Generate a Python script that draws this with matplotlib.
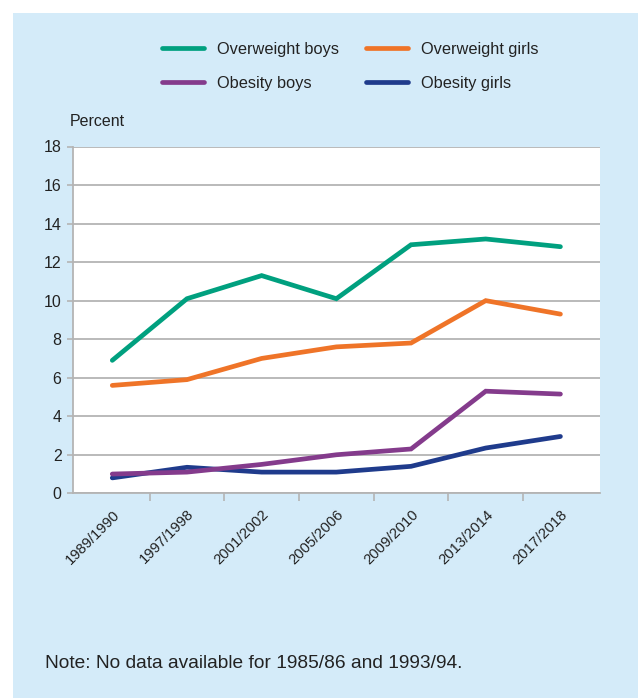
import matplotlib
matplotlib.use("Agg")
import matplotlib.pyplot as plt
from matplotlib.patches import Rectangle
from matplotlib.ticker import FixedLocator
from matplotlib.transforms import ScaledTranslation

periods = ["1989/1990", "1997/1998", "2001/2002", "2005/2006",
           "2009/2010", "2013/2014", "2017/2018"]
overweight_boys = [6.9, 10.1, 11.3, 10.1, 12.9, 13.2, 12.8]
overweight_girls = [5.6, 5.9, 7.0, 7.6, 7.8, 10.0, 9.3]
obesity_boys = [1.0, 1.1, 1.5, 2.0, 2.3, 5.3, 5.15]
obesity_girls = [0.8, 1.35, 1.1, 1.1, 1.4, 2.35, 2.95]
y_ticks = [0, 2, 4, 6, 8, 10, 12, 14, 16, 18]

FONT = ["Liberation Sans Narrow", "Liberation Sans", "DejaVu Sans"]
plt.rcParams["font.family"] = FONT

W, H = 638, 698
fig = plt.figure(figsize=(W / 100, H / 100), dpi=100)
fig.patch.set_facecolor("white")
fig.patches.append(Rectangle((13 / W, 0), 1 - 13 / W, 1 - 13 / H,
                             transform=fig.transFigure, facecolor="#d4ebf9",
                             edgecolor="none", zorder=-10))

ax = fig.add_axes([72.7 / W, 1 - 493.3 / H, (600 - 72.7) / W, (493.3 - 146.5) / H])
ax.set_zorder(1)
ax.set_facecolor("white")

x = list(range(len(periods)))
series = [
    ("Overweight boys", overweight_boys, "#00a07f"),
    ("Overweight girls", overweight_girls, "#ef7428"),
    ("Obesity boys", obesity_boys, "#843b8c"),
    ("Obesity girls", obesity_girls, "#1f3b8c"),
]
handles = {}
zorders = {"Obesity girls": 3, "Obesity boys": 4, "Overweight girls": 5, "Overweight boys": 6}
for name, vals, col in series:
    (ln,) = ax.plot(x, vals, color=col, lw=3.4, solid_capstyle="round",
                    solid_joinstyle="miter", label=name, zorder=zorders[name])
    handles[name] = ln

ax.set_xlim(-0.53, len(periods) - 1 + 0.53)
ax.set_ylim(0, 18)
ax.set_yticks(y_ticks)
ax.set_yticklabels([str(v) for v in y_ticks], fontsize=11.5, color="#222222")
ax.grid(axis="y", color="#b4b4b4", lw=1.3, zorder=1)
ax.set_axisbelow(True)

ax.set_xticks(x)
ax.set_xticklabels(periods, rotation=45, ha="right", rotation_mode="anchor",
                   fontsize=10.6, color="#222222")
shift = ScaledTranslation(6 / 100, 0, fig.dpi_scale_trans)
for lab in ax.get_xticklabels():
    lab.set_transform(lab.get_transform() + shift)
ax.tick_params(axis="x", which="major", length=0, pad=10)
ax.xaxis.set_minor_locator(FixedLocator([i + 0.5 for i in range(len(periods) - 1)]))
ax.tick_params(axis="x", which="minor", length=5.5, width=1.2, color="#b4b4b4")
ax.tick_params(axis="y", length=4, width=1.2, color="#b4b4b4", pad=4)

for s in ["top", "right"]:
    ax.spines[s].set_visible(False)
for s in ["left", "bottom"]:
    ax.spines[s].set_color("#b4b4b4")
    ax.spines[s].set_linewidth(1.3)

fig.text(70 / W, 1 - 122 / H, "Percent", fontsize=11.5, color="#222222",
         ha="left", va="center")

order = ["Overweight boys", "Obesity boys", "Overweight girls", "Obesity girls"]
leg = fig.legend([handles[n] for n in order], order, ncol=2, loc="upper left",
                 bbox_to_anchor=(155 / W, 1 - 35 / H), frameon=False,
                 fontsize=11.8, handlelength=2.6, handletextpad=0.8,
                 columnspacing=1.6, labelspacing=1.2, borderaxespad=0)
for t in leg.get_texts():
    t.set_color("#222222")

fig.text(45 / W, 1 - 663 / H, "Note: No data available for 1985/86 and 1993/94.",
         fontsize=13.8, color="#222222", ha="left", va="center")

fig.savefig("out.png", dpi=100, facecolor="white")
